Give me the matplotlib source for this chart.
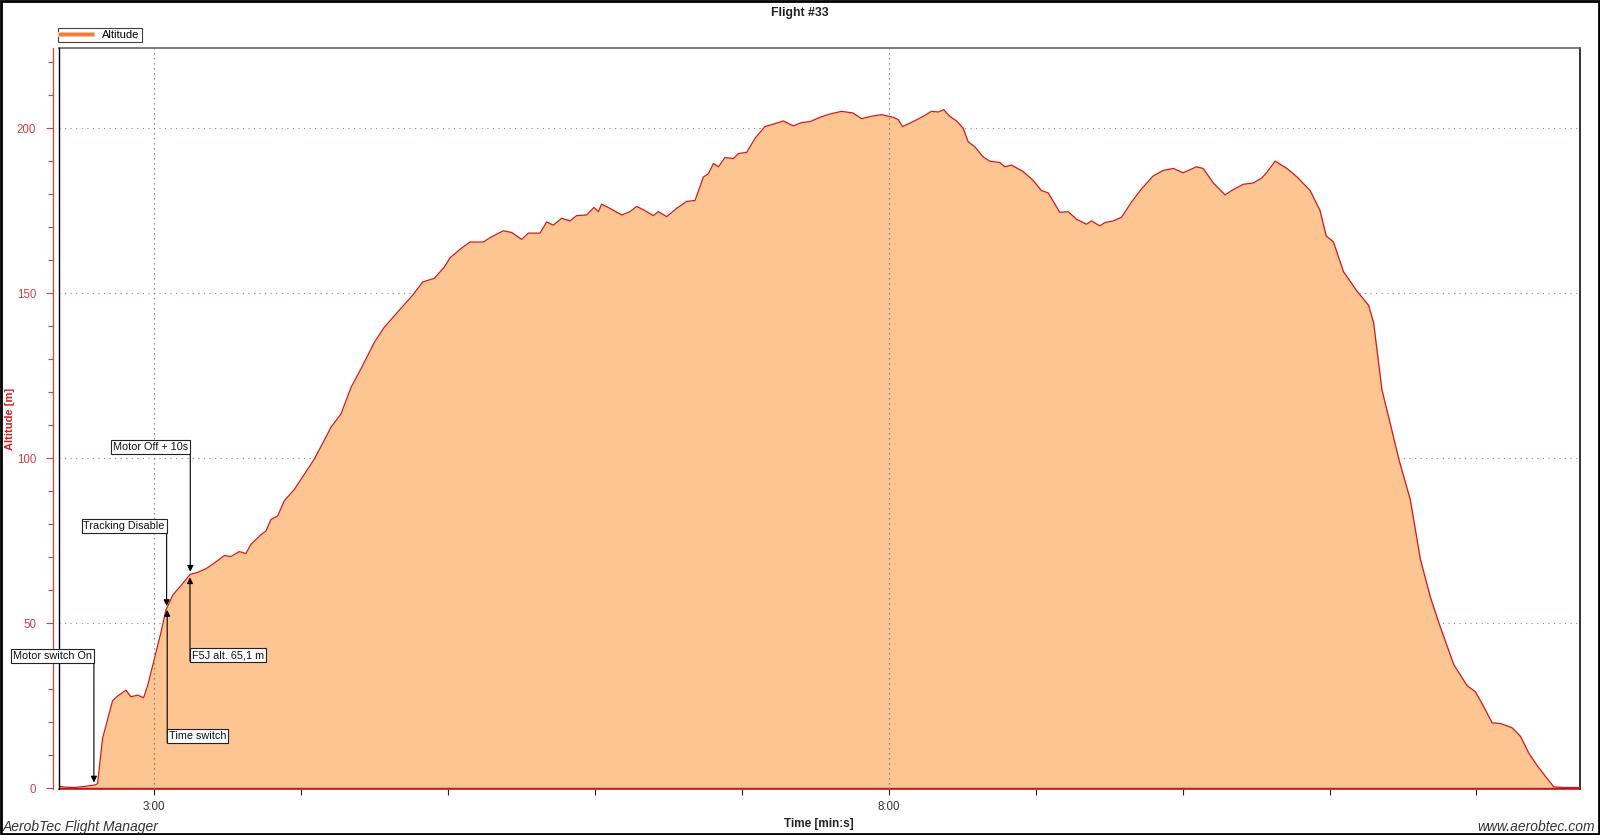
import numpy as np
import matplotlib
matplotlib.use("Agg")
import matplotlib.pyplot as plt
from matplotlib.ticker import FixedLocator, MultipleLocator, FuncFormatter
from matplotlib.patches import Rectangle
from matplotlib.lines import Line2D
import matplotlib.patheffects as pe

plt.rcParams['font.family'] = ['Liberation Sans', 'DejaVu Sans']

# time in minutes, altitude in m
time_min = [2.342, 2.40, 2.455, 2.52, 2.569, 2.60, 2.614, 2.648, 2.682, 2.716, 2.75, 2.807,
            2.841, 2.887, 2.927, 2.955, 3.0, 3.045, 3.079, 3.125, 3.182, 3.245, 3.295, 3.352,
            3.408, 3.477, 3.522, 3.579, 3.624, 3.658, 3.726, 3.76, 3.794, 3.84, 3.885, 3.953,
            4.021, 4.089, 4.157, 4.203, 4.271, 4.339, 4.407, 4.498, 4.566, 4.634, 4.702, 4.759,
            4.827, 4.906, 4.974, 5.013, 5.081, 5.149, 5.24, 5.285, 5.376, 5.433, 5.501, 5.546,
            5.626, 5.671, 5.716, 5.773, 5.83, 5.875, 5.943, 5.993, 6.023, 6.045, 6.102, 6.182,
            6.238, 6.284, 6.341, 6.397, 6.431, 6.488, 6.556, 6.624, 6.681, 6.738, 6.772, 6.806,
            6.84, 6.885, 6.942, 6.976, 7.033, 7.089, 7.157, 7.214, 7.282, 7.35, 7.407, 7.464,
            7.532, 7.6, 7.678, 7.757, 7.814, 7.882, 7.95, 8.03, 8.064, 8.093, 8.166, 8.234,
            8.29, 8.336, 8.374, 8.415, 8.461, 8.506, 8.54, 8.585, 8.642, 8.688, 8.756, 8.79,
            8.835, 8.914, 8.982, 9.039, 9.085, 9.164, 9.221, 9.278, 9.346, 9.38, 9.436, 9.471,
            9.527, 9.584, 9.652, 9.72, 9.799, 9.868, 9.936, 10.004, 10.094, 10.14, 10.209,
            10.289, 10.345, 10.414, 10.482, 10.539, 10.573, 10.63, 10.71, 10.777, 10.868,
            10.936, 10.977, 11.027, 11.095, 11.186, 11.266, 11.3, 11.357, 11.414, 11.47,
            11.55, 11.618, 11.686, 11.745, 11.845, 11.936, 11.993, 12.05, 12.107, 12.164,
            12.243, 12.3, 12.357, 12.414, 12.482, 12.527, 12.6, 12.709]
altitude = [0.6, 0.3, 0.2, 0.5, 0.8, 1.0, 1.4, 15.1, 20.8, 26.5, 27.9, 29.7,
            27.7, 28.2, 27.4, 31.1, 39.1, 47.1, 53.9, 58.5, 61.4, 64.8, 65.4, 66.5,
            68.2, 70.5, 70.2, 71.7, 71.1, 73.9, 76.8, 77.9, 81.4, 82.5, 87.1, 90.5,
            95.1, 99.7, 105.4, 109.4, 113.4, 121.4, 127.1, 135.1, 139.7, 143.1, 146.5, 149.4,
            153.4, 154.5, 157.9, 160.7, 163.3, 165.5, 165.5, 166.8, 168.9, 168.4, 166.3, 168.2,
            168.2, 171.6, 170.6, 172.7, 171.9, 173.5, 173.7, 176.0, 174.7, 177.0, 175.7, 173.7,
            174.7, 176.3, 175.0, 173.5, 174.7, 173.2, 175.7, 177.8, 178.1, 185.2, 186.2, 189.3,
            188.3, 191.1, 190.8, 192.3, 192.7, 196.9, 200.5, 201.2, 202.2, 200.7, 201.7, 202.0,
            203.3, 204.3, 205.1, 204.6, 202.9, 203.6, 204.1, 203.3, 202.6, 200.5, 202.0, 203.6,
            205.1, 204.9, 205.6, 203.6, 202.2, 200.0, 195.9, 194.4, 191.3, 190.0, 189.6, 188.3,
            188.8, 186.9, 184.2, 181.1, 180.4, 174.5, 174.7, 172.4, 170.9, 171.9, 170.4, 171.4,
            171.9, 173.0, 177.6, 181.6, 185.5, 187.2, 187.8, 186.5, 188.3, 187.8, 183.4,
            179.8, 181.4, 183.0, 183.4, 184.9, 186.6, 190.0, 187.8, 185.3, 181.1,
            175.0, 167.4, 165.5, 156.5, 150.7, 146.3, 141.1, 120.7, 110.4, 100.0,
            87.4, 69.5, 58.0, 50.0, 37.5, 31.1, 29.2, 24.7, 19.8, 19.6,
            18.3, 15.7, 10.6, 6.8, 2.9, 0.4, 0.2, 0.2]

event_labels = ["Motor switch On", "Tracking Disable", "Time switch", "Motor Off + 10s", "F5J alt. 65,1 m"]
event_times = [2.589, 3.084, 3.088, 3.245, 3.243]

time_min = np.array(time_min)
altitude = np.array(altitude)

fig = plt.figure(figsize=(16, 8.35), dpi=100)
ax = fig.add_axes([58.5 / 1600, 1 - 789 / 835, (1580 - 58.5) / 1600, (789 - 48) / 835])

ax.fill_between(time_min, 0, altitude, color='#FDC591', lw=0, zorder=2)
ax.plot(time_min, altitude, color='#D01818', lw=0.9, zorder=3)

ax.set_xlim(2.348, 12.705)
ax.set_ylim(-0.25, 224.3)

# x axis
ax.xaxis.set_major_locator(FixedLocator([3, 8]))
ax.xaxis.set_minor_locator(MultipleLocator(1))
ax.xaxis.set_major_formatter(FuncFormatter(lambda v, p: f"{int(v)}:{int(round((v % 1) * 60)):02d}"))
ax.tick_params(axis='x', which='both', direction='out', length=4, width=0.8, color='#222222',
               labelsize=8.3, labelcolor='#333333', pad=5)

# y axis (red, offset)
ax.yaxis.set_major_locator(MultipleLocator(50))
ax.yaxis.set_minor_locator(MultipleLocator(10))
ax.tick_params(axis='y', which='major', direction='out', length=5, width=0.8, color='#D04040',
               labelsize=8.3, labelcolor='#D04040', pad=7)
ax.tick_params(axis='y', which='minor', direction='out', length=3.5, width=0.8, color='#D04040')
ax.spines['left'].set_position(('outward', 4))
ax.spines['left'].set_color('#D04040')
ax.spines['left'].set_linewidth(0.9)
ax.spines['bottom'].set_color('#B02020')
ax.spines['bottom'].set_linewidth(1.2)
ax.spines['top'].set_color('#666666')
ax.spines['right'].set_color('#111111')
ax.spines['top'].set_linewidth(1.2)
ax.spines['right'].set_linewidth(1.2)
ax.plot([0, 0], [0, 1], transform=ax.transAxes, color='black', lw=1.0, clip_on=False, zorder=5)
ax.axhline(0, color='#C01818', lw=1.0, zorder=4)

# grid
for yv in [50, 100, 150, 200]:
    ax.axhline(yv, color='#C87070', lw=0.8, ls=(0, (1, 4)), zorder=1)
for xv in [3, 8]:
    ax.axvline(xv, color='#707070', lw=0.9, ls=(0, (1, 3)), zorder=4)

ax.set_ylabel("Altitude [m]", color='#D02020', fontsize=8, fontweight='bold')
ax.yaxis.set_label_coords(-0.0285, 0.5)
ax.set_xlabel("Time [min:s]", color='#222222', fontsize=8.5, fontweight='bold', labelpad=3)

# annotations: text box + vertical arrow to the curve
bbox = dict(boxstyle='square,pad=0.18', fc='white', ec='#222222', lw=0.8)
arrow = dict(arrowstyle='-|>', color='black', lw=0.8, mutation_scale=9, shrinkA=0, shrinkB=0)
# (box centre alt, box edge alt, side, direction)
layout = [(40.1, 41.9, 'right', 'down'),
          (79.5, 81.3, 'right', 'down'),
          (15.7, 13.8, 'left', 'up'),
          (103.5, 105.3, 'right', 'down'),
          (40.3, 38.5, 'left', 'up')]
for lab, t, (yc, yedge, side, d) in zip(event_labels, event_times, layout):
    curve = np.interp(t, time_min, altitude)
    tip = curve + 0.8 if d == 'down' else curve - 0.8
    ax.annotate('', xy=(t, tip), xytext=(t, yedge), arrowprops=arrow, zorder=6)
    tx = t - 0.012 if side == 'right' else t + 0.012
    ax.text(tx, yc, lab, ha=side, va='center', fontsize=7.8, color='#111111',
            bbox=bbox, zorder=7, clip_on=False)

# legend
leg_line = Line2D([0], [0], color='#F07838', lw=2.0,
                  path_effects=[pe.Stroke(linewidth=3.6, foreground='#F9BE98'), pe.Normal()])
leg = ax.legend([leg_line], ['Altitude'], loc='lower left',
                bbox_to_anchor=(58 / 1600, 1 - 42 / 835), bbox_transform=fig.transFigure,
                fontsize=8, frameon=True, fancybox=False, edgecolor='#111111',
                handlelength=2.9, handletextpad=0.9, borderpad=0.2, borderaxespad=0)
leg.get_frame().set_linewidth(0.8)

fig.text(0.5, 1 - 13 / 835, "Flight #33", ha='center', va='center', fontsize=8.8,
         fontweight='bold', color='#222222')
fig.text(3 / 1600, 1 - 827 / 835, "AerobTec Flight Manager", ha='left', va='center',
         fontsize=10, style='italic', color='#333333')
fig.text(1595 / 1600, 1 - 827 / 835, "www.aerobtec.com", ha='right', va='center',
         fontsize=10, style='italic', color='#333333')

fig.patches.append(Rectangle((0.0005, 0.001), 0.999, 0.998, transform=fig.transFigure,
                             fill=False, ec='black', lw=2))

fig.savefig("out.png", dpi=100)
